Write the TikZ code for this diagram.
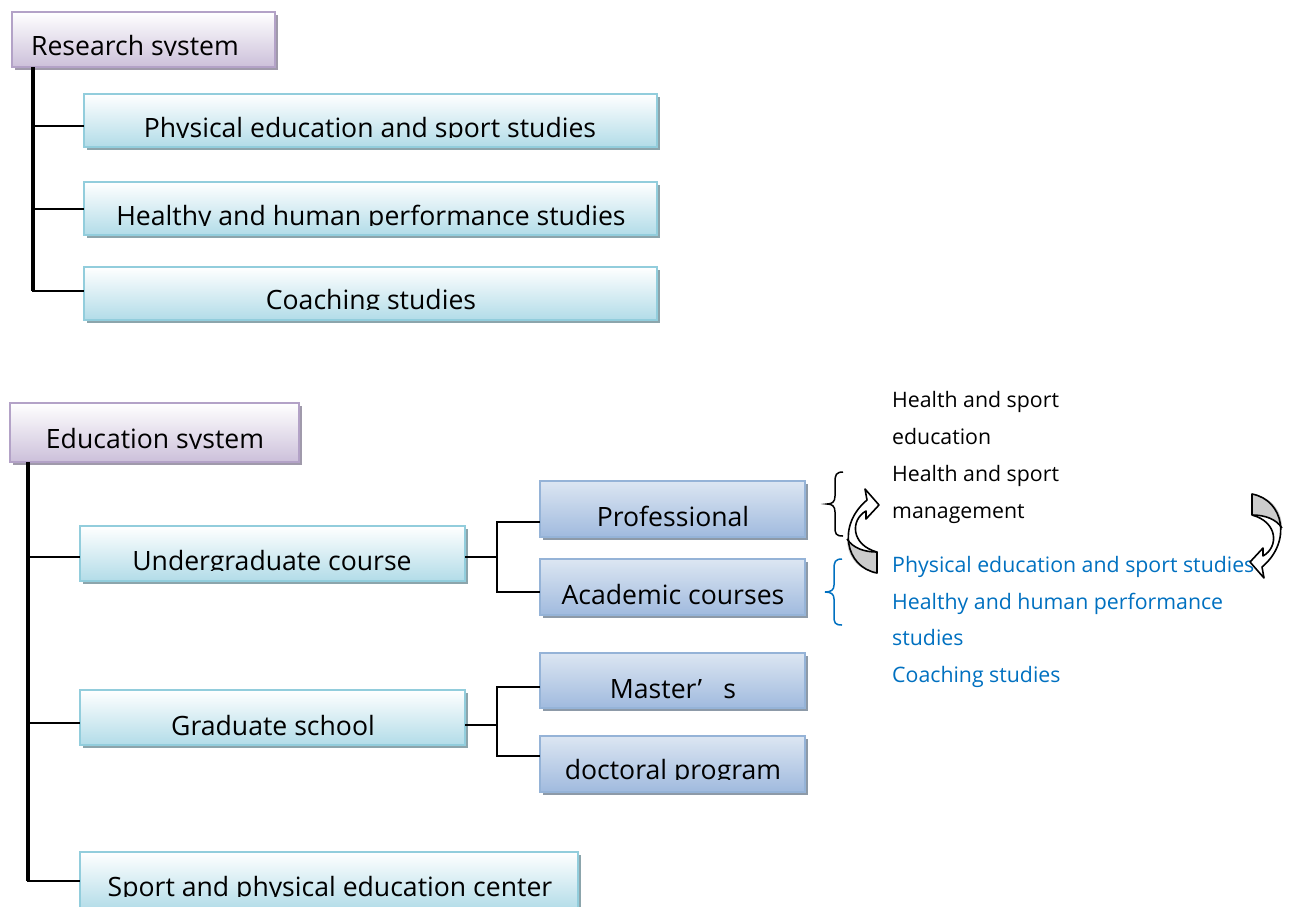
\documentclass[tikz,border=0pt]{standalone}
\usepackage{fontspec}
\setmainfont{Open Sans}
\usetikzlibrary{calc}
\definecolor{cyb}{RGB}{146,205,220}
\definecolor{cyf}{RGB}{178,220,232}
\definecolor{cys}{RGB}{140,165,172}
\definecolor{pub}{RGB}{179,162,199}
\definecolor{puf}{RGB}{204,192,218}
\definecolor{pus}{RGB}{160,154,171}
\definecolor{blb}{RGB}{149,179,215}
\definecolor{blt}{RGB}{220,230,242}
\definecolor{blf}{RGB}{160,186,222}
\definecolor{bls}{RGB}{141,154,168}
\definecolor{txtblue}{RGB}{0,112,192}
\newcommand{\bx}[7]{%
  \fill[#2] (#4+3,#5+3) rectangle (#6+3,#7+3);
  \node[#1, minimum width={(#6-#4)*1pt}, minimum height={(#7-#5)*1pt}] (#3) at ({(#4+#6)/2},{(#5+#7)/2}) {};}
\newcommand{\bt}[4]{%
  \coordinate (#1b) at (#2,#3+0.5);
  \begin{scope}
    \clip (#1.north west) rectangle (#1.east |- #1b);
    \node[btext, anchor=base] (#1t) at (#2,#3) {#4};
  \end{scope}}
\tikzset{
  boxbase/.style={draw, line width=1.5pt, inner sep=0pt, outer sep=0pt},
  cbox/.style={boxbase, draw=cyb, top color=white, bottom color=cyf},
  pbox/.style={boxbase, draw=pub, top color=white, bottom color=puf},
  bbox/.style={boxbase, draw=blb, top color=blt, bottom color=blf},
  btext/.style={inner sep=0pt, font=\fontsize{26.6}{30}\selectfont},
  rtext/.style={inner sep=0pt, anchor=base west, font=\fontsize{21.3}{25}\selectfont},
  trunk/.style={line width=4pt, black},
  branch/.style={line width=2pt, black},
  brace/.style={line width=1.5pt},
  arr/.style={line width=1.6pt, black, line join=round}
}
\newcommand{\curvedarrowshape}{%
  \fill[white] (15,42) .. controls (-17,36) and (-25,-6) .. (5,-31) -- (3,-42) -- (17,-26) -- (4,-12) -- (4,-20) .. controls (-12,-11) and (-11,14) .. (15,21) -- cycle;
  \fill[black!20] (15,42) .. controls (-5,39) and (-15,25) .. (-15,8) .. controls (-9,17) and (2,21) .. (15,21) -- cycle;
  \draw[arr] (15,42) .. controls (-17,36) and (-25,-6) .. (5,-31) -- (3,-42) -- (17,-26) -- (4,-12) -- (4,-20) .. controls (-12,-11) and (-11,14) .. (15,21) -- cycle;
  \draw[arr] (-15,8) .. controls (-9,17) and (2,21) .. (15,21);}
\begin{document}
\begin{tikzpicture}[x=1pt,y=-1pt]
\useasboundingbox (0,0) rectangle (1289,906);
% research system
\bx{pbox}{pus}{R0}{12}{12}{275}{67}
\bt{R0}{135}{55}{Research system}
\bx{cbox}{cys}{R1}{84}{94}{657}{147}
\bt{R1}{370}{137}{Physical education and sport studies}
\bx{cbox}{cys}{R2}{84}{182}{657}{235}
\bt{R2}{371}{225}{Healthy and human performance studies}
\bx{cbox}{cys}{R3}{84}{267}{657}{320}
\bt{R3}{371}{309}{Coaching studies}
\coordinate (rt) at ($(R0.south west)+(21,0)$);
\coordinate (r1j) at ($(R1.west)+(0,5)$);
\coordinate (r2j) at (R2.west);
\coordinate (r3j) at ($(R3.west)+(0,-3)$);
\draw[trunk] (rt) -- (rt |- r3j);
\draw[branch] (rt |- r1j) -- (r1j);
\draw[branch] (rt |- r2j) -- (r2j);
\draw[branch] ([xshift=-1pt]rt |- r3j) -- (r3j);
% education system
\bx{pbox}{pus}{E0}{10}{403}{299}{462}
\bt{E0}{155}{448}{Education system}
\bx{cbox}{cys}{U}{80}{526}{465}{581}
\bt{U}{272}{570}{Undergraduate course}
\bx{cbox}{cys}{G}{80}{690}{465}{745}
\bt{G}{273}{735}{Graduate school}
\bx{cbox}{cys}{S}{80}{852}{578}{910}
\bt{S}{330}{896}{Sport and physical education center}
\bx{bbox}{bls}{P}{540}{481}{805}{537}
\bt{P}{673}{526}{Professional}
\bx{bbox}{bls}{A}{540}{559}{805}{615}
\bt{A}{673}{604}{Academic courses}
\bx{bbox}{bls}{M}{540}{653}{805}{708}
\bt{M}{673}{698}{Master’\hspace{0.8em}s}
\bx{bbox}{bls}{D}{540}{736}{805}{792}
\bt{D}{673}{779}{doctoral program}
\coordinate (et) at ($(E0.south west)+(18,0)$);
\coordinate (uj) at ($(U.west)+(0,3.5)$);
\coordinate (gj) at ($(G.west)+(0,5.5)$);
\coordinate (sj) at (S.west);
\draw[trunk] (et) -- (et |- sj);
\draw[branch] (et |- uj) -- (uj);
\draw[branch] (et |- gj) -- (gj);
\draw[branch] ([xshift=-1pt]et |- sj) -- (sj);
\coordinate (ue) at ($(U.east)+(0,3.5)$);
\coordinate (uf) at ($(ue)+(32,0)$);
\coordinate (pj) at ($(P.west)+(0,13)$);
\coordinate (aj) at ($(A.west)+(0,5)$);
\draw[branch] (ue) -- (uf);
\draw[branch] (pj) -| (uf) |- (aj);
\coordinate (ge) at ($(G.east)+(0,7)$);
\coordinate (gf) at ($(ge)+(32,0)$);
\coordinate (mj) at ($(M.west)+(0,6.5)$);
\coordinate (dj) at ($(D.west)+(0,-8)$);
\draw[branch] (ge) -- (gf);
\draw[branch] (mj) -| (gf) |- (dj);
% right side texts
\node[rtext] (h1) at (892,407) {Health and sport};
\node[rtext] (h2) at (892,444) {education};
\node[rtext] (h3) at (892,481) {Health and sport};
\node[rtext] (h4) at (892,518) {management};
\node[rtext, text=txtblue] (b1) at (892,572) {Physical education and sport studies};
\node[rtext, text=txtblue] (b2) at (892,609) {Healthy and human performance};
\node[rtext, text=txtblue] (b3) at (892,645) {studies};
\node[rtext, text=txtblue] (b4) at (892,682) {Coaching studies};
% braces
\draw[brace] (843,472) .. controls (836,472) and (835,475) .. (835,482) -- (835,496) .. controls (835,502) and (832,504) .. (827,504) .. controls (832,504) and (835,506) .. (835,512) -- (835,527) .. controls (835,534) and (836,536) .. (843,536);
\draw[brace, txtblue] (842,559) .. controls (835,559) and (834,562) .. (834,569) -- (834,585) .. controls (834,590) and (831,592) .. (825,592) .. controls (831,592) and (834,594) .. (834,599) -- (834,616) .. controls (834,623) and (835,625) .. (842,625);
% curved arrows
\begin{scope}[shift={(862,531)}]
\curvedarrowshape
\end{scope}
\begin{scope}[shift={(1267,536)}, rotate=180]
\curvedarrowshape
\end{scope}
\end{tikzpicture}
\end{document}
